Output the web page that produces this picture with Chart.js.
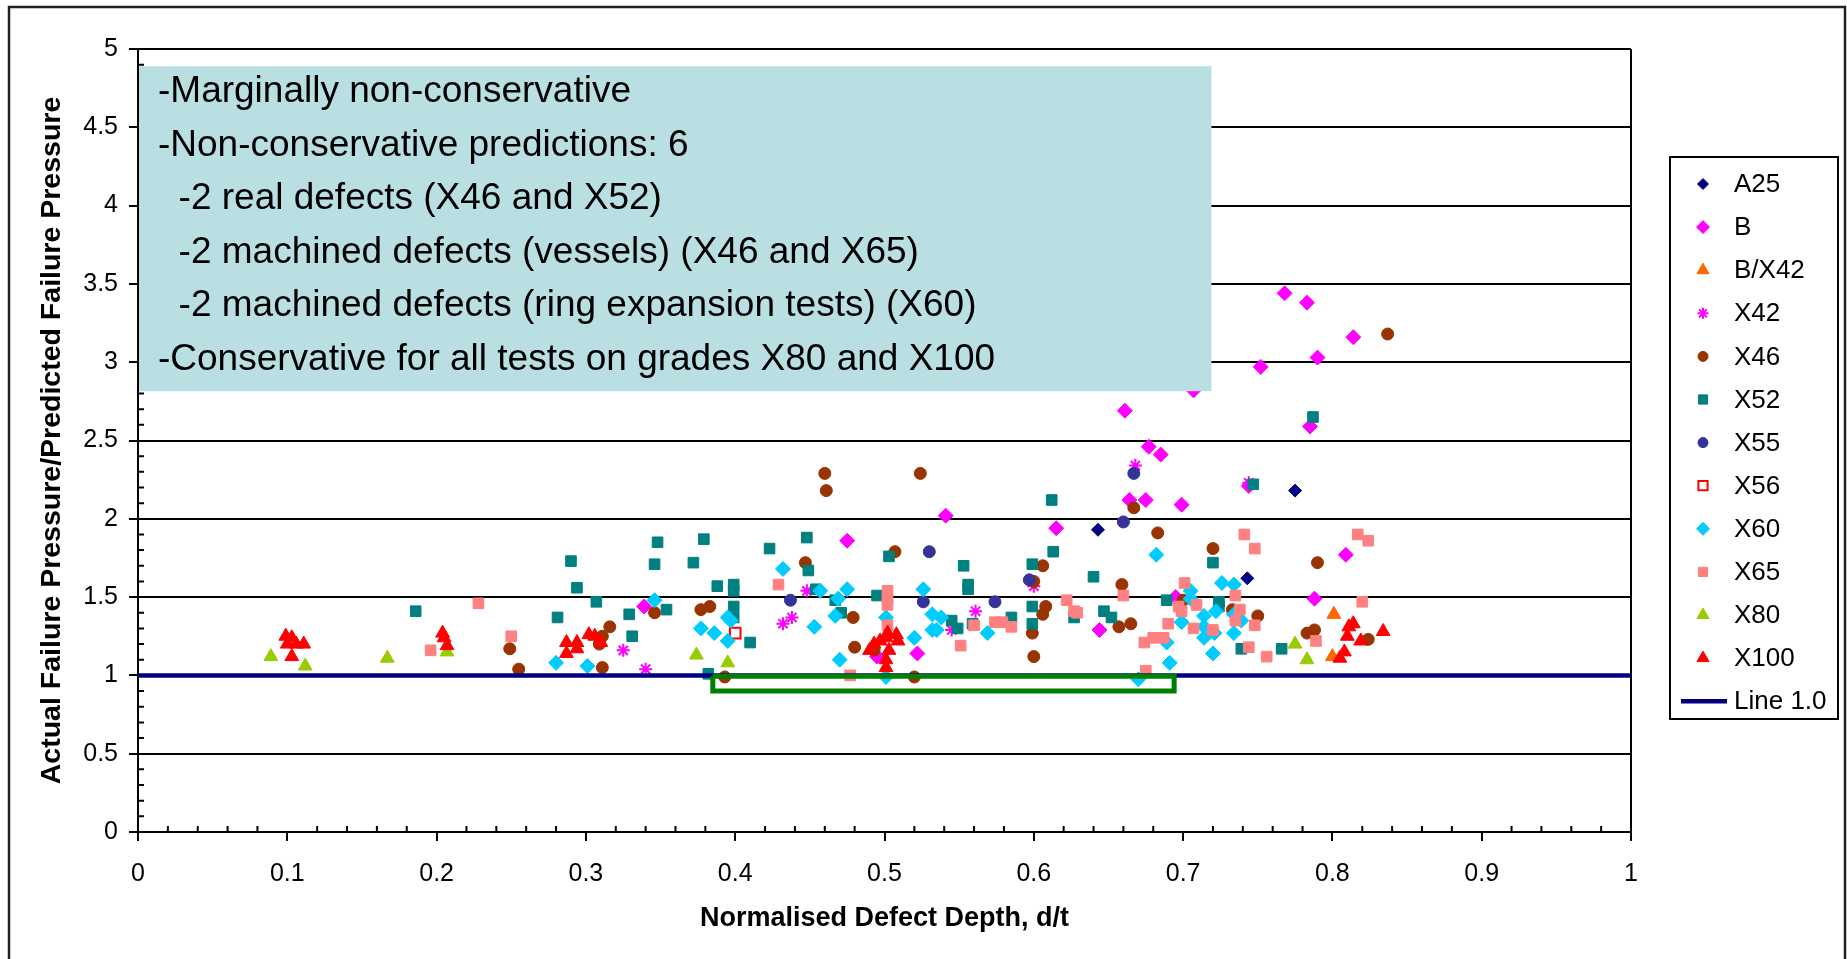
<!DOCTYPE html>
<html>
<head>
<meta charset="utf-8">
<title>Actual / predicted failure pressure vs defect depth</title>
<script src="https://cdn.jsdelivr.net/npm/chart.js@4.4.1/dist/chart.umd.min.js"></script>
<style>
    html, body { margin: 0; padding: 0; background: #fff; }
    #wrap { width: 1847px; height: 959px; }
</style>
</head>
<body>
<div id="wrap"><canvas id="chart" width="1847" height="959"></canvas></div>
<script>
// values: [d/t, Pactual/Ppredicted]
const A25 = [[0.643, 1.93], [0.743, 1.62], [0.775, 2.18]];
const B = [
    [0.339, 1.44], [0.475, 1.86], [0.495, 1.12], [0.522, 1.14], [0.541, 2.02], [0.615, 1.94],
    [0.644, 1.29], [0.661, 2.69], [0.664, 2.12], [0.675, 2.12], [0.677, 2.46], [0.685, 2.41],
    [0.695, 1.50], [0.699, 2.09], [0.707, 2.82], [0.744, 2.21], [0.752, 2.97], [0.768, 3.44],
    [0.783, 3.38], [0.785, 2.59], [0.788, 1.49], [0.790, 3.03], [0.809, 1.77], [0.814, 3.16],
];
const B_X42 = [[0.801, 1.39], [0.800, 1.12]];
const X42 = [
    [0.325, 1.16], [0.340, 1.04], [0.432, 1.33], [0.438, 1.37], [0.448, 1.54],
    [0.545, 1.29], [0.561, 1.41], [0.600, 1.57], [0.668, 2.34], [0.744, 2.23],
];
const X46 = [
    [0.249, 1.17], [0.255, 1.04], [0.309, 1.20], [0.311, 1.25], [0.311, 1.05], [0.316, 1.31],
    [0.346, 1.40], [0.377, 1.42], [0.383, 1.44], [0.393, 0.99], [0.447, 1.72], [0.460, 2.29],
    [0.461, 2.18], [0.479, 1.37], [0.480, 1.18], [0.493, 1.16], [0.507, 1.79], [0.520, 0.99],
    [0.524, 2.29], [0.599, 1.27], [0.600, 1.12], [0.600, 1.60], [0.606, 1.39], [0.606, 1.70],
    [0.608, 1.44], [0.657, 1.31], [0.659, 1.58], [0.665, 1.33], [0.667, 2.07], [0.683, 1.91],
    [0.700, 1.48], [0.720, 1.81], [0.733, 1.42], [0.750, 1.38], [0.783, 1.27], [0.788, 1.29],
    [0.790, 1.72], [0.824, 1.23], [0.837, 3.18],
];
const X52 = [
    [0.186, 1.41], [0.281, 1.37], [0.290, 1.73], [0.294, 1.56], [0.307, 1.47], [0.329, 1.39],
    [0.331, 1.25], [0.346, 1.71], [0.348, 1.85], [0.354, 1.42], [0.372, 1.72], [0.379, 1.87],
    [0.382, 1.01], [0.388, 1.57], [0.399, 1.58], [0.399, 1.54], [0.399, 1.44], [0.399, 1.37],
    [0.410, 1.21], [0.423, 1.81], [0.448, 1.88], [0.449, 1.67], [0.454, 1.55], [0.467, 1.48],
    [0.471, 1.40], [0.495, 1.51], [0.503, 1.76], [0.545, 1.35], [0.549, 1.30], [0.553, 1.70],
    [0.556, 1.58], [0.556, 1.55], [0.559, 1.33], [0.585, 1.37], [0.599, 1.71], [0.599, 1.44],
    [0.599, 1.33], [0.612, 2.12], [0.613, 1.79], [0.627, 1.37], [0.640, 1.63], [0.647, 1.41],
    [0.652, 1.37], [0.689, 1.48], [0.720, 1.72], [0.724, 1.47], [0.724, 1.44], [0.739, 1.17],
    [0.747, 2.22], [0.766, 1.17], [0.787, 2.65],
];
const X55 = [[0.437, 1.48], [0.526, 1.47], [0.530, 1.79], [0.574, 1.47], [0.597, 1.61], [0.660, 1.98], [0.667, 2.29]];
const X56 = [[0.400, 1.27]];
const X60 = [
    [0.280, 1.08], [0.301, 1.06], [0.346, 1.48], [0.377, 1.30], [0.386, 1.27], [0.395, 1.37],
    [0.397, 1.35], [0.395, 1.22], [0.432, 1.68], [0.453, 1.31], [0.457, 1.54], [0.467, 1.38],
    [0.469, 1.49], [0.470, 1.10], [0.475, 1.55], [0.501, 1.37], [0.501, 0.99], [0.520, 1.24],
    [0.526, 1.55], [0.532, 1.39], [0.532, 1.29], [0.535, 1.29], [0.538, 1.37], [0.569, 1.27],
    [0.670, 0.975], [0.682, 1.77], [0.689, 1.21], [0.691, 1.08], [0.699, 1.34], [0.705, 1.54],
    [0.705, 1.49], [0.714, 1.38], [0.714, 1.31], [0.714, 1.24], [0.720, 1.14], [0.721, 1.27],
    [0.722, 1.41], [0.726, 1.59], [0.734, 1.58], [0.734, 1.27], [0.734, 1.39], [0.739, 1.35],
];
const X65 = [
    [0.196, 1.16], [0.228, 1.46], [0.250, 1.25], [0.429, 1.58], [0.477, 1.00], [0.502, 1.54],
    [0.502, 1.49], [0.502, 1.45], [0.502, 1.32], [0.551, 1.19], [0.560, 1.32], [0.574, 1.34],
    [0.579, 1.34], [0.585, 1.31], [0.622, 1.48], [0.627, 1.41], [0.629, 1.40], [0.660, 1.51],
    [0.674, 1.21], [0.675, 1.03], [0.680, 1.24], [0.687, 1.24], [0.690, 1.33], [0.697, 1.44],
    [0.699, 1.41], [0.701, 1.59], [0.707, 1.30], [0.709, 1.45], [0.720, 1.29], [0.735, 1.51],
    [0.735, 1.35], [0.738, 1.42], [0.741, 1.90], [0.744, 1.18], [0.748, 1.81], [0.748, 1.32],
    [0.756, 1.12], [0.789, 1.22], [0.817, 1.90], [0.820, 1.47], [0.824, 1.86],
];
const X80 = [[0.089, 1.12], [0.112, 1.06], [0.167, 1.11], [0.207, 1.15], [0.374, 1.13], [0.395, 1.08], [0.775, 1.20], [0.783, 1.10]];
const X100 = [
    [0.099, 1.25], [0.103, 1.24], [0.100, 1.20], [0.106, 1.20], [0.111, 1.20], [0.103, 1.12],
    [0.204, 1.27], [0.205, 1.24], [0.207, 1.19], [0.287, 1.21], [0.287, 1.14], [0.294, 1.21],
    [0.294, 1.17], [0.302, 1.26], [0.306, 1.25], [0.310, 1.21], [0.490, 1.16], [0.493, 1.20],
    [0.497, 1.22], [0.501, 1.24], [0.502, 1.27], [0.508, 1.26], [0.509, 1.22], [0.503, 1.16],
    [0.501, 1.10], [0.501, 1.05], [0.805, 1.11], [0.808, 1.15], [0.810, 1.25], [0.811, 1.31],
    [0.814, 1.33], [0.819, 1.22], [0.834, 1.28],
];
const LINE_1_0 = [[0, 1], [1, 1]];
// green outline round the non-conservative results
const FLAGGED = [[0.385, 0.995], [0.694, 0.995], [0.694, 0.90], [0.385, 0.90], [0.385, 0.995]];

const X_RANGE = [0, 1, 0.1];
const Y_RANGE = [0, 5, 0.5];

const NOTES = [
    "-Marginally non-conservative",
    "-Non-conservative predictions: 6",
    "  -2 real defects (X46 and X52)",
    "  -2 machined defects (vessels) (X46 and X65)",
    "  -2 machined defects (ring expansion tests) (X60)",
    "-Conservative for all tests on grades X80 and X100",
];

const FONT = "Arial, 'Liberation Sans', sans-serif";

const SERIES = [
    { label: "A25", data: A25, style: "rectRot", color: "#000080", r: 6.5 },
    { label: "B", data: B, style: "rectRot", color: "#FF00FF", r: 7.5 },
    { label: "B/X42", data: B_X42, style: "triangle", color: "#FF6600", r: 8 },
    { label: "X42", data: X42, style: "star", color: "#FF00FF", r: 6.5 },
    { label: "X46", data: X46, style: "circle", color: "#993300", r: 6 },
    { label: "X52", data: X52, style: "rect", color: "#008080", r: 7.5 },
    { label: "X55", data: X55, style: "circle", color: "#333399", r: 6 },
    { label: "X56", data: X56, style: "rect", color: "#FF0000", r: 7.5, hollow: true },
    { label: "X60", data: X60, style: "rectRot", color: "#00CCFF", r: 7.5 },
    { label: "X65", data: X65, style: "rect", color: "#FF8080", r: 7.5 },
    { label: "X80", data: X80, style: "triangle", color: "#99CC00", r: 8 },
    { label: "X100", data: X100, style: "triangle", color: "#FF0000", r: 8 },
];

const toPoints = (arr) => arr.map(([x, y]) => ({ x, y }));
const tickText = (v) => String(Math.round(v * 100) / 100);

const datasets = SERIES.map((s, i) => ({
    label: s.label,
    data: toPoints(s.data),
    pointStyle: s.style,
    pointRadius: s.r,
    backgroundColor: s.hollow ? "#FFFFFF" : s.color,
    borderColor: s.color,
    borderWidth: s.style === "star" || s.hollow ? 2 : 1,
    order: SERIES.length - i + 2,
}));

datasets.push({
    label: "Line 1.0",
    data: toPoints(LINE_1_0),
    showLine: true,
    borderColor: "#000080",
    borderWidth: 4.5,
    pointRadius: 0,
    order: 1,
});
datasets.push({
    label: "flagged",
    data: toPoints(FLAGGED),
    showLine: true,
    borderColor: "#008000",
    borderWidth: 5,
    borderJoinStyle: "miter",
    pointRadius: 0,
    order: 0,
});

// axis frame, right edge and minor ticks
const framePlugin = {
    id: "frame",
    beforeDatasetsDraw(chart) {
        const { ctx, chartArea: a, scales } = chart;
        ctx.save();
        ctx.strokeStyle = "#000";
        ctx.lineWidth = 2;
        ctx.beginPath();
        ctx.moveTo(a.right, a.top);
        ctx.lineTo(a.right, a.bottom);
        for (let i = 1; i < 50; i++) {
            if (i % 5 === 0) continue;
            const py = scales.y.getPixelForValue(i / 10);
            ctx.moveTo(a.left, py);
            ctx.lineTo(a.left + 6, py);
            const px = scales.x.getPixelForValue(i / 50);
            ctx.moveTo(px, a.bottom);
            ctx.lineTo(px, a.bottom - 6);
        }
        ctx.stroke();
        ctx.restore();
    },
};

// text box over the upper left of the plot
const notesPlugin = {
    id: "notes",
    afterDatasetsDraw(chart) {
        const { ctx, chartArea: a, scales } = chart;
        const left = a.left + 1;
        const right = scales.x.getPixelForValue(0.719);
        const top = scales.y.getPixelForValue(4.89);
        const bottom = scales.y.getPixelForValue(2.815);
        ctx.save();
        ctx.fillStyle = "#B9DFE3";
        ctx.fillRect(left, top, right - left, bottom - top);
        ctx.fillStyle = "#000";
        ctx.font = `37px ${FONT}`;
        ctx.textBaseline = "middle";
        NOTES.forEach((line, i) => {
            ctx.fillText(line, left + 19, top + 26 + i * 53.5);
        });
        ctx.restore();
    },
};

// legend box and outer border
const legendPlugin = {
    id: "boxLegend",
    afterDraw(chart) {
        const { ctx } = chart;
        ctx.save();
        ctx.strokeStyle = "#222";
        ctx.lineWidth = 2.5;
        ctx.beginPath();
        ctx.moveTo(9, 962);
        ctx.lineTo(9, 7);
        ctx.lineTo(1845, 7);
        ctx.lineTo(1845, 962);
        ctx.stroke();

        ctx.strokeStyle = "#000";
        ctx.lineWidth = 2;
        ctx.strokeRect(1670, 157, 168, 562);

        ctx.font = `26px ${FONT}`;
        ctx.textBaseline = "middle";
        const step = 43.1;
        SERIES.forEach((s, i) => {
            const y = 184 + i * step;
            ctx.fillStyle = s.hollow ? "#FFFFFF" : s.color;
            ctx.strokeStyle = s.color;
            ctx.lineWidth = s.style === "star" || s.hollow ? 2 : 1;
            Chart.helpers.drawPoint(ctx, { pointStyle: s.style, radius: s.r - 1, borderWidth: ctx.lineWidth, rotation: 0 }, 1703, y);
            ctx.fillStyle = "#000";
            ctx.fillText(s.label, 1734, y + 1);
        });
        const ly = 184 + SERIES.length * step;
        ctx.strokeStyle = "#000080";
        ctx.lineWidth = 4.5;
        ctx.beginPath();
        ctx.moveTo(1681, ly);
        ctx.lineTo(1727, ly);
        ctx.stroke();
        ctx.fillStyle = "#000";
        ctx.fillText("Line 1.0", 1734, ly + 1);
        ctx.restore();
    },
};

new Chart(document.getElementById("chart"), {
    type: "scatter",
    data: { datasets },
    options: {
        responsive: false,
        animation: false,
        events: [],
        layout: { padding: { left: 10, right: 216, top: 49, bottom: 0 } },
        plugins: { legend: { display: false }, tooltip: { enabled: false } },
        scales: {
            x: {
                type: "linear",
                min: X_RANGE[0],
                max: X_RANGE[1],
                afterFit: (s) => { s.height = 127; },
                ticks: { stepSize: X_RANGE[2], color: "#000", font: { family: FONT, size: 25 }, padding: 18, callback: tickText },
                grid: { drawOnChartArea: false, drawTicks: true, tickLength: 9, color: "#000", lineWidth: 2 },
                border: { display: true, color: "#000", width: 2 },
                title: {
                    display: true,
                    text: "Normalised Defect Depth, d/t",
                    color: "#000",
                    font: { family: FONT, size: 27, weight: "bold" },
                    padding: { top: 0, bottom: 24 },
                },
            },
            y: {
                type: "linear",
                min: Y_RANGE[0],
                max: Y_RANGE[1],
                afterFit: (s) => { s.width = 128; },
                ticks: { stepSize: Y_RANGE[2], color: "#000", font: { family: FONT, size: 25 }, padding: 11, callback: tickText },
                grid: { color: "#000", lineWidth: 2, tickLength: 9 },
                border: { display: true, color: "#000", width: 2 },
                title: {
                    display: true,
                    text: "Actual Failure Pressure/Predicted Failure Pressure",
                    color: "#000",
                    font: { family: FONT, size: 28.5, weight: "bold" },
                    padding: { top: 25, bottom: 0 },
                },
            },
        },
    },
    plugins: [framePlugin, notesPlugin, legendPlugin],
});
</script>
</body>
</html>
